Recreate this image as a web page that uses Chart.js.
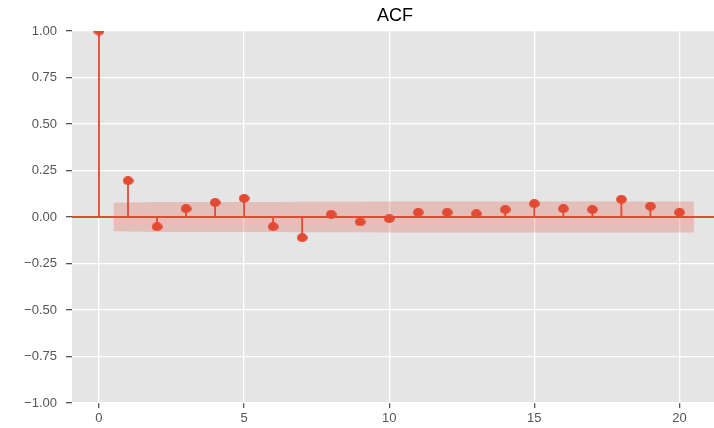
<!DOCTYPE html>
<html><head><meta charset="utf-8">
<script src="https://cdn.jsdelivr.net/npm/chart.js@4.4.1/dist/chart.umd.min.js"></script>
<style>
html,body{margin:0;padding:0;background:#fff;overflow:hidden;}
#wrap{width:714px;height:428px;overflow:hidden;position:relative;}
#box{position:absolute;left:0;top:0;width:724px;height:428px;}
</style></head><body>
<div id="wrap"><div id="box"><canvas id="c" width="724" height="428"></canvas></div></div>
<script>
// ---- data ----
const lags = [0,1,2,3,4,5,6,7,8,9,10,11,12,13,14,15,16,17,18,19,20];
const acfValues = [1.0,0.195,-0.052,0.045,0.078,0.100,-0.052,-0.111,0.014,-0.026,-0.009,0.025,0.025,0.018,0.040,0.072,0.045,0.040,0.095,0.058,0.025];
// half-width of the confidence band for lags 1..20
const confHalf = [0.077,0.080,0.080,0.080,0.081,0.081,0.082,0.082,0.082,0.083,0.083,0.083,0.083,0.083,0.083,0.083,0.083,0.083,0.084,0.084];
const xTickValues = [0,5,10,15,20];
const yTickValues = [-1,-0.75,-0.5,-0.25,0,0.25,0.5,0.75,1];
const titleText = 'ACF';

const RED = '#E24A33';
const FONT = "'Liberation Sans', Arial, sans-serif";

// band x positions follow statsmodels: first lag -0.5, last lag +0.5
const bandLags = lags.slice(1).map((l,i,a)=> i===0 ? l-0.5 : (i===a.length-1 ? l+0.5 : l));
const bandUpper = bandLags.map((x,i)=>({x:x, y: confHalf[i]}));
const bandLower = bandLags.map((x,i)=>({x:x, y: -confHalf[i]}));
const stems = [];
lags.forEach((l,i)=>{ stems.push({x:l,y:0}); stems.push({x:l,y:acfValues[i]}); stems.push({x:l,y:null}); });
const markers = lags.map((l,i)=>({x:l,y:acfValues[i]}));

function ellipseMarker(){
  const c=document.createElement('canvas'); c.width=11; c.height=9;
  const g=c.getContext('2d'); g.fillStyle=RED; g.beginPath();
  g.ellipse(5.5,4.5,5.4,4.4,0,0,Math.PI*2); g.fill(); return c;
}

const bgPlugin = {
  id:'bg',
  beforeDraw(chart){
    const a=chart.chartArea, ctx=chart.ctx;
    ctx.save(); ctx.fillStyle='#E5E5E5'; ctx.fillRect(a.left,a.top,a.right-a.left,a.bottom-a.top); ctx.restore();
  },
  afterDatasetDraw(chart,args){
    if(args.index!==2) return;
    const a=chart.chartArea, ctx=chart.ctx, y=chart.scales.y.getPixelForValue(0);
    ctx.save(); ctx.strokeStyle=RED; ctx.lineWidth=1.8;
    ctx.beginPath(); ctx.moveTo(a.left,y); ctx.lineTo(a.right,y); ctx.stroke(); ctx.restore();
  }
};

const fmtY = v => (v<0 ? '\u2212' : '') + Math.abs(v).toFixed(2);

new Chart(document.getElementById('c'), {
  type:'scatter',
  data:{ datasets:[
    {type:'line', data:bandUpper, fill:'+1', backgroundColor:'rgba(226,74,51,0.25)', borderWidth:0, pointRadius:0, order:4},
    {type:'line', data:bandLower, fill:false, borderWidth:0, pointRadius:0, order:5},
    {type:'line', data:stems, borderColor:RED, borderWidth:1.8, pointRadius:0, spanGaps:false, fill:false, order:3},
    {type:'scatter', data:markers, pointStyle:ellipseMarker(), pointRadius:5, order:1}
  ]},
  options:{
    responsive:false, animation:false,
    layout:{padding:0},
    plugins:{
      legend:{display:false}, tooltip:{enabled:false},
      title:{display:true, text:titleText, fullSize:false, color:'#000',
        font:{family:FONT, size:18, weight:'normal'}, padding:{top:5,bottom:4.4}}
    },
    scales:{
      x:{type:'linear', min:-0.93, max:21.33,
        afterBuildTicks:s=>{ s.ticks = xTickValues.map(v=>({value:v})); },
        afterFit:s=>{ s.height=25; s.paddingLeft=0; s.paddingRight=0; },
        ticks:{callback:v=>String(v), color:'#555', font:{family:FONT,size:13}, padding:3, maxRotation:0},
        grid:{color:'#fff', lineWidth:1.3, tickColor:'#555', tickLength:5, drawTicks:true},
        border:{display:false}
      },
      y:{type:'linear', min:-1, max:1,
        afterBuildTicks:s=>{ s.ticks = yTickValues.map(v=>({value:v})); },
        afterFit:s=>{ s.width=72; s.paddingTop=0; s.paddingBottom=0; },
        ticks:{callback:v=>fmtY(v), color:'#555', font:{family:FONT,size:13}, padding:9},
        grid:{color:'#fff', lineWidth:1.3, tickColor:'#555', tickLength:6, drawTicks:true},
        border:{display:false}
      }
    }
  },
  plugins:[bgPlugin]
});
</script>
</body></html>
